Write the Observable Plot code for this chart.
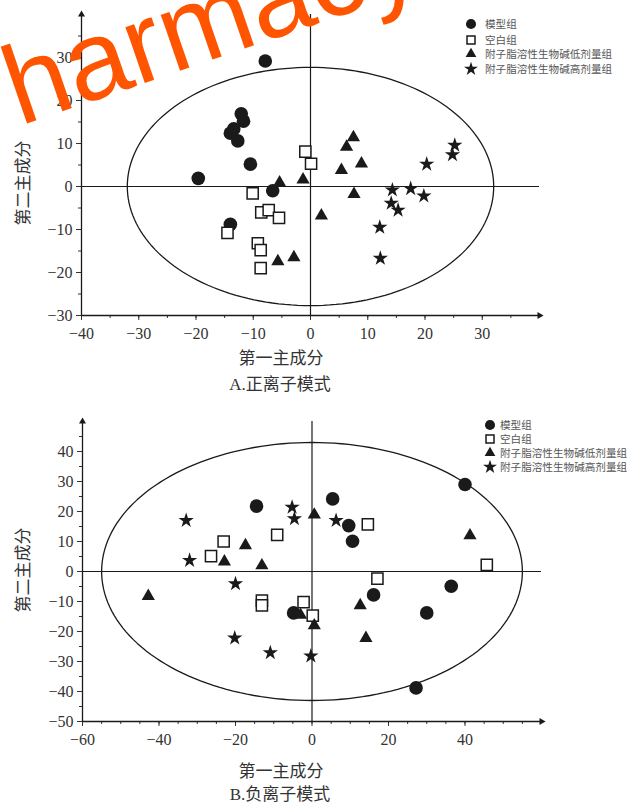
<!DOCTYPE html>
<html><head><meta charset="utf-8">
<script src="https://cdn.jsdelivr.net/npm/d3@7"></script>
<script src="https://cdn.jsdelivr.net/npm/@observablehq/plot@0.6"></script>
<style>
body{margin:0;background:#fff;}
#wrap{position:relative;width:638px;height:803px;overflow:hidden;}
.abs{position:absolute;}
.ttl{font-family:"Noto Sans CJK SC",sans-serif;font-size:17px;line-height:20px;color:#333;white-space:nowrap;transform:translateX(-50%);}
.cap{font-family:"Liberation Serif","Noto Sans CJK SC",serif;font-size:17px;line-height:20px;color:#333;white-space:nowrap;transform:translateX(-50%);}
.yttl{font-family:"Noto Sans CJK SC",sans-serif;font-size:17px;line-height:20px;color:#333;white-space:nowrap;transform:translate(-50%,-50%) rotate(-90deg);}
.leg{font-family:"Noto Sans CJK SC",sans-serif;font-size:10.6px;color:#555;}
.leg .row{position:absolute;white-space:nowrap;}
.wm{font-family:"Liberation Sans",sans-serif;font-size:112px;line-height:112px;color:#FF5500;white-space:nowrap;transform-origin:0 95px;transform:rotate(-19deg);pointer-events:none;}
</style></head>
<body><div id="wrap"></div>
<script>
// ---------- data ----------
const groups = ["模型组", "空白组", "附子脂溶性生物碱低剂量组", "附子脂溶性生物碱高剂量组"];
const symbols = ["circle", "square", "triangle", "star"];

// Panel A: positive ion mode (PC1, PC2)
const posModel = [[-7.9,29.2],[-12.1,16.9],[-11.7,15.2],[-13.4,13.4],[-14.0,12.4],[-12.7,10.6],[-10.5,5.2],[-19.6,1.9],[-6.6,-1.0],[-14.0,-8.8]];
const posBlank = [[-0.9,8.1],[0.1,5.3],[-10.1,-1.6],[-8.6,-6.0],[-7.3,-5.5],[-5.5,-7.3],[-14.5,-10.8],[-9.2,-13.2],[-8.7,-14.8],[-8.7,-19.0]];
const posLow   = [[-5.4,0.9],[-1.3,1.6],[7.5,11.4],[6.3,9.2],[8.9,5.3],[5.4,3.8],[7.6,-1.8],[1.9,-6.8],[-5.7,-17.4],[-2.9,-16.5]];
const posHigh  = [[25.2,9.6],[24.8,7.4],[20.3,5.2],[14.3,-0.8],[17.5,-0.5],[19.8,-2.2],[14.1,-3.9],[15.3,-5.5],[12.1,-9.5],[12.2,-16.7]];
const posXDomain = [-40, 40], posYDomain = [-30, 40];
const posXTicks = [-40,-30,-20,-10,0,10,20,30];
const posYTicks = [-30,-20,-10,0,10,20,30];
const posEllipse = [32, 27.7];

// Panel B: negative ion mode
const negModel = [[-14.5,21.8],[5.4,24.2],[9.6,15.3],[10.6,10.1],[40.0,29.0],[36.4,-4.9],[16.1,-7.8],[30.0,-13.8],[27.2,-38.8],[-4.8,-13.8]];
const negBlank = [[-23.1,10.0],[-26.4,5.1],[-9.1,12.2],[14.6,15.7],[45.7,2.2],[17.1,-2.4],[-13.1,-9.7],[-13.1,-11.3],[-2.2,-10.2],[0.2,-14.7]];
const negLow   = [[-42.8,-8.2],[-22.9,3.3],[-17.4,8.7],[-13.1,2.0],[0.6,18.9],[41.3,12.0],[12.6,-11.3],[14.1,-22.2],[0.6,-18.0],[-3.0,-14.5]];
const negHigh  = [[-32.9,17.0],[-32.0,3.7],[-20.0,-4.1],[-5.2,21.4],[-4.6,17.6],[6.3,17.0],[-20.2,-22.2],[-10.9,-27.1],[-0.3,-28.2]];
const negXDomain = [-60, 60], negYDomain = [-50, 50];
const negXTicks = [-60,-40,-20,0,20,40];
const negYTicks = [-50,-40,-30,-20,-10,0,10,20,30,40];
const negEllipse = [55, 43];

const xTitle = "第一主成分", yTitle = "第二主成分";
const captions = ["A.正离子模式", "B.负离子模式"];

// ---------- drawing ----------
const ink = "#1a1a1a";
function toObj(arr){ return arr.map(([x,y]) => ({x, y})); }
function minorTicks(domain, step){ return d3.range(Math.ceil(domain[0]/step)*step, domain[1] + 1e-9, step); }

function panel(o){
  const [x0,x1] = o.xDomain, [y0,y1] = o.yDomain;
  const ell = d3.range(0, 361, 2).map(t => ({x: o.ellipse[0]*Math.cos(t*Math.PI/180), y: o.ellipse[1]*Math.sin(t*Math.PI/180)}));
  const style = [
    {fill: ink, stroke: "none", r: 6.8},
    {fill: "white", stroke: ink, strokeWidth: 1.5, r: 6.3},
    {fill: ink, stroke: "none", r: 4.9},
    {fill: ink, stroke: "none", r: 4.8}
  ];
  const dotMarks = o.series.map((s, i) => Plot.dot(toObj(s), {x: "x", y: "y", symbol: symbols[i], ...style[i]}));
  return Plot.plot({
    width: 638, height: o.height,
    marginLeft: o.ml, marginRight: o.mr, marginTop: o.mt, marginBottom: o.mb,
    x: {domain: o.xDomain}, y: {domain: o.yDomain},
    style: {fontFamily: "Liberation Serif, serif", fontSize: "16px", color: "#333", background: "transparent", overflow: "visible"},
    marks: [
      Plot.axisX({ticks: minorTicks(o.xDomain, 5).filter(v => v < x1), tickSize: 3, tickFormat: () => "", label: null}),
      Plot.axisX({ticks: o.xTicks, tickSize: 5, tickPadding: 7, label: null}),
      Plot.axisY({ticks: minorTicks(o.yDomain, 5).filter(v => v < y1), tickSize: 3, tickFormat: () => "", label: null}),
      Plot.axisY({ticks: o.yTicks, tickSize: 5, tickPadding: 4, label: null}),
      Plot.line(ell, {x: "x", y: "y", stroke: ink, strokeWidth: 1.3}),
      Plot.ruleY([0], {x1: x0, x2: x1, stroke: ink, strokeWidth: 1.2}),
      Plot.ruleX([0], {y1: y0, y2: y1, stroke: ink, strokeWidth: 1.2}),
      Plot.ruleY([y0], {x1: x0, x2: x1, stroke: ink, strokeWidth: 1.3}),
      Plot.ruleX([x0], {y1: y0, y2: y1, stroke: ink, strokeWidth: 1.3}),
      Plot.dot([{x: x1, y: y0}], {x: "x", y: "y", symbol: "triangle", rotate: 90, r: 2.6, fill: ink}),
      Plot.dot([{x: x0, y: y1}], {x: "x", y: "y", symbol: "triangle", r: 2.6, fill: ink}),
      ...dotMarks
    ]
  });
}

const wrap = document.getElementById("wrap");
function place(el, left, top){ el.classList.add("abs"); el.style.left = left + "px"; el.style.top = top + "px"; wrap.appendChild(el); return el; }
function div(cls, text){ const d = document.createElement("div"); d.className = cls; d.textContent = text; return d; }

const svgA = panel({xDomain: posXDomain, yDomain: posYDomain, xTicks: posXTicks, yTicks: posYTicks, ellipse: posEllipse,
  series: [posModel, posBlank, posLow, posHigh], height: 345, ml: 81, mr: 99, mt: 14, mb: 30});
place(svgA, 0, 0);
const svgB = panel({xDomain: negXDomain, yDomain: negYDomain, xTicks: negXTicks, yTicks: negYTicks, ellipse: negEllipse,
  series: [negModel, negBlank, negLow, negHigh], height: 352, ml: 82, mr: 97, mt: 21, mb: 31});
place(svgB, 0, 400);

place(div("ttl", xTitle), 281, 347);
place(div("cap", captions[0]), 280, 375);
place(div("yttl", yTitle), 22, 183);
place(div("ttl", xTitle), 281, 760);
place(div("cap", captions[1]), 280, 785);
place(div("yttl", yTitle), 22, 570);

function legend(mx, tx, ys){
  const g = document.createElement("div"); g.className = "leg";
  const sizes = [80, 64, 50, 60];
  groups.forEach((name, i) => {
    const row = document.createElement("div"); row.className = "row";
    row.style.left = (mx - 7) + "px"; row.style.top = (ys[i] - 8) + "px";
    const w = 14;
    const svg = d3.create("svg").attr("width", w).attr("height", 16).style("position","absolute").style("left","0px").style("top","0px");
    const sym = [d3.symbolCircle, d3.symbolSquare, d3.symbolTriangle, d3.symbolStar][i];
    svg.append("path").attr("transform", `translate(7,8)`).attr("d", d3.symbol(sym, sizes[i])())
      .attr("fill", i === 1 ? "white" : ink).attr("stroke", i === 1 ? ink : "none").attr("stroke-width", 1.5);
    row.appendChild(svg.node());
    const t = document.createElement("span"); t.textContent = name;
    t.style.position = "absolute"; t.style.left = (tx - mx + 7) + "px"; t.style.top = "0px"; t.style.lineHeight = "16px";
    row.appendChild(t);
    g.appendChild(row);
  });
  wrap.appendChild(g);
}
legend(471, 485, [24.3, 39.5, 54.3, 69]);
legend(490, 500, [425, 439.3, 452.8, 466.7]);

place(div("wm", "harmacy"), 20, 32);
</script></body></html>
